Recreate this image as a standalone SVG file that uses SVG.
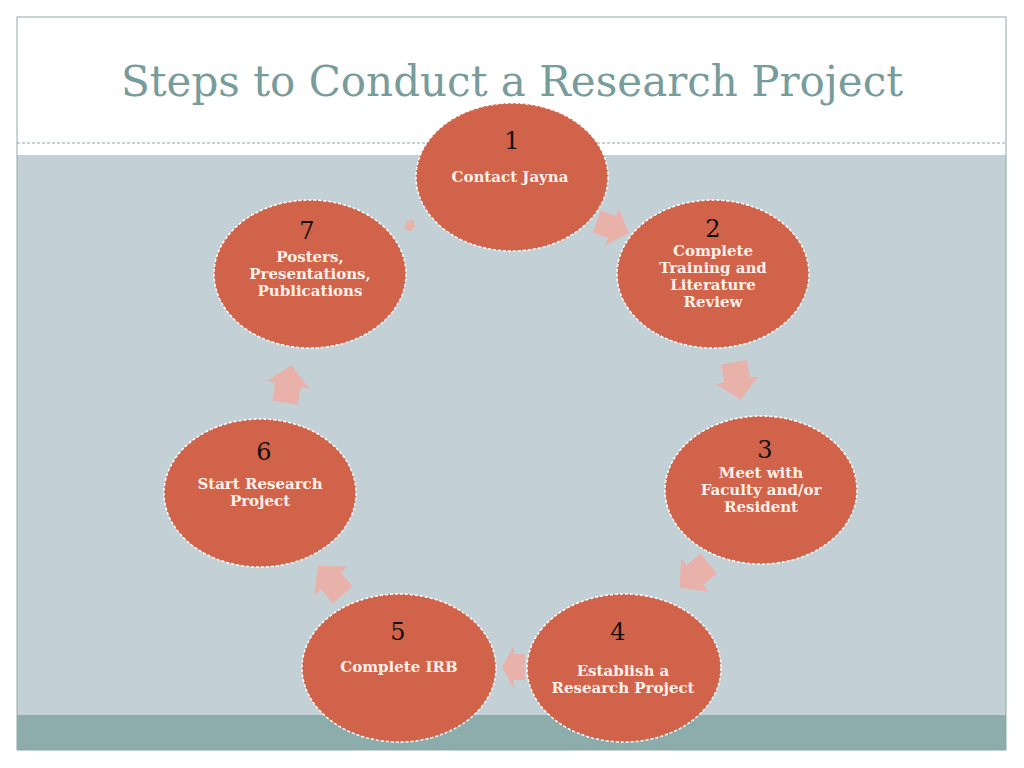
<svg xmlns="http://www.w3.org/2000/svg" width="1024" height="768" viewBox="0 0 1024 768">
<style>
.n ellipse{fill:#d1634a;stroke:#fff;stroke-width:1.5;stroke-dasharray:3 2}
.num{font-family:"DejaVu Serif","Liberation Serif",serif;font-size:24px;fill:#111;text-anchor:middle}
.lb{font-family:"DejaVu Serif","Liberation Serif",serif;font-size:15px;font-weight:bold;fill:#fdf0e8;text-anchor:middle}
.ar{fill:#e8b2ab}
</style>
<defs><path id="a" d="M-18,-13 H0 V-22 L20,0 L0,22 V13 H-18 Z"/></defs>
<rect width="1024" height="768" fill="#fff"/>
<rect x="17" y="155" width="989" height="560" fill="#c3d1d6"/>
<rect x="17" y="715" width="989" height="35" fill="#8dadad"/>
<rect x="17" y="17" width="989" height="733" fill="none" stroke="#8fa9aa" stroke-width="1"/>
<line x1="17" y1="143" x2="1006" y2="143" stroke="#8fa9aa" stroke-dasharray="3 2"/>
<text x="512" y="96" font-family="DejaVu Serif,Liberation Serif,serif" font-size="42" fill="#789c9b" text-anchor="middle">Steps to Conduct a Research Project</text>
<g id="connectors">
<use href="#a" class="ar" transform="translate(612,227) rotate(20) scale(0.9)"/>
<use href="#a" class="ar" transform="translate(737,380) rotate(80)"/>
<use href="#a" class="ar" transform="translate(695,575) rotate(140)"/>
<use href="#a" class="ar" transform="translate(514,667) rotate(180) scale(0.6,1)"/>
<use href="#a" class="ar" transform="translate(331,581) rotate(-130)"/>
<use href="#a" class="ar" transform="translate(288,385) rotate(-80)"/>
<use href="#a" class="ar" transform="translate(410,225) rotate(-60) scale(0.3)"/>
</g>
<g id="n1" class="n"><ellipse cx="512" cy="177" rx="96" ry="74"/><text class="num" x="512" y="149">1</text><text class="lb" x="510" y="182">Contact Jayna</text></g>
<g id="n2" class="n"><ellipse cx="713" cy="274" rx="96" ry="74"/><text class="num" x="713" y="237">2</text><text class="lb" x="713" y="256">Complete</text><text class="lb" x="713" y="273">Training and</text><text class="lb" x="713" y="290">Literature</text><text class="lb" x="713" y="307">Review</text></g>
<g id="n3" class="n"><ellipse cx="761" cy="490" rx="96" ry="74"/><text class="num" x="765" y="458">3</text><text class="lb" x="761" y="478">Meet with</text><text class="lb" x="761" y="495">Faculty and/or</text><text class="lb" x="761" y="512">Resident</text></g>
<g id="n4" class="n"><ellipse cx="624" cy="668" rx="97" ry="74"/><text class="num" x="618" y="640">4</text><text class="lb" x="623" y="676">Establish a</text><text class="lb" x="623" y="693">Research Project</text></g>
<g id="n5" class="n"><ellipse cx="399" cy="668" rx="97" ry="74"/><text class="num" x="398" y="640">5</text><text class="lb" x="399" y="672">Complete IRB</text></g>
<g id="n6" class="n"><ellipse cx="260" cy="493" rx="96" ry="74"/><text class="num" x="264" y="460">6</text><text class="lb" x="260" y="489">Start Research</text><text class="lb" x="260" y="506">Project</text></g>
<g id="n7" class="n"><ellipse cx="310" cy="274" rx="96" ry="74"/><text class="num" x="307" y="239">7</text><text class="lb" x="310" y="262">Posters,</text><text class="lb" x="310" y="279">Presentations,</text><text class="lb" x="310" y="296">Publications</text></g>
</svg>
